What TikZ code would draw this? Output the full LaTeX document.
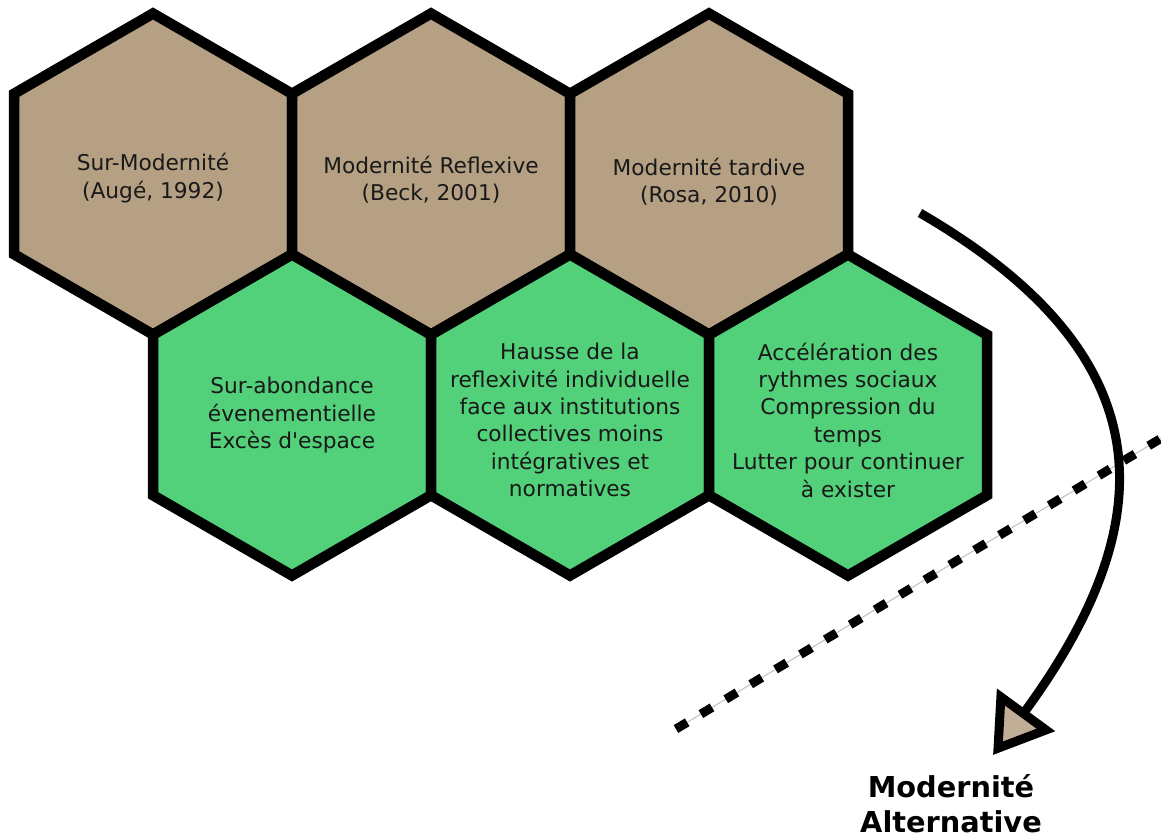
\documentclass[tikz,border=0pt]{standalone}
\usepackage{fontspec}
\setmainfont{DejaVu Sans}
\usetikzlibrary{arrows.meta}

\definecolor{hexbrown}{RGB}{181,160,132}
\definecolor{hexgreen}{RGB}{82,208,122}

\tikzset{
	brownhex/.style={fill=hexbrown, draw=black, line width=5.25pt},
	greenhex/.style={fill=hexgreen, draw=black, line width=5.25pt},
	hextext/.style={align=center, text=black!90, font=\fontsize{10.85pt}{13.7pt}\selectfont},
}

\newcommand{\hexagon}[2]{\path[#1] (#2) +(90:160.5) -- +(30:160.5) -- +(-30:160.5) -- +(-90:160.5) -- +(-150:160.5) -- +(150:160.5) -- cycle;}

\begin{document}
\begin{tikzpicture}[x=0.5pt, y=-0.5pt]
	
	\useasboundingbox (0,0) rectangle (1161,837);
	
	\coordinate (h1) at (153,174);
	\coordinate (h2) at (431,174);
	\coordinate (h3) at (709,174);
	\coordinate (g1) at (292,415);
	\coordinate (g2) at (570,415);
	\coordinate (g3) at (848,415);
	
	\hexagon{brownhex}{h1}
	\hexagon{brownhex}{h2}
	\hexagon{brownhex}{h3}
	\hexagon{greenhex}{g1}
	\hexagon{greenhex}{g2}
	\hexagon{greenhex}{g3}
	
	\node[hextext] (sur) at (153,178) {Sur-Modernité\\(Augé, 1992)};
	\node[hextext] (beck) at (431,180) {Modernité Reflexive\\(Beck, 2001)};
	\node[hextext] (rosa) at (709,182) {Modernité tardive\\(Rosa, 2010)};
	\node[hextext] (abond) at (292,415) {Sur-abondance\\évenementielle\\Excès d\textquotesingle espace};
	\node[hextext] (reflex) at (570,420) {Hausse de la\\reflexivité individuelle\\face aux institutions\\collectives moins\\intégratives et\\normatives};
	\node[hextext] (accel) at (848,420) {Accélération des\\rythmes sociaux\\Compression du\\temps\\Lutter pour continuer\\à exister};
	
	\node[align=center, font=\fontsize{14.4pt}{17.5pt}\selectfont\bfseries] (alt) at (951,804) {Modernité\\Alternative};
	
	\coordinate (cutA) at (676,729);
	\coordinate (cutB) at (1190,421);
	\draw[gray!50, line width=0.5pt] (cutA) -- (cutB);
	\draw[black, line width=4.5pt, dash pattern=on 6.5pt off 8pt] (cutA) -- (cutB);
	
	\coordinate (arcA) at (920,213);
	\coordinate (arcB) at (993,755);
	\draw[line width=4.5pt, -{Triangle[length=28pt, width=35pt, fill=hexbrown!85!white]}] (arcA) .. controls (1165,355) and (1165,520) .. (arcB);
	
\end{tikzpicture}
\end{document}
